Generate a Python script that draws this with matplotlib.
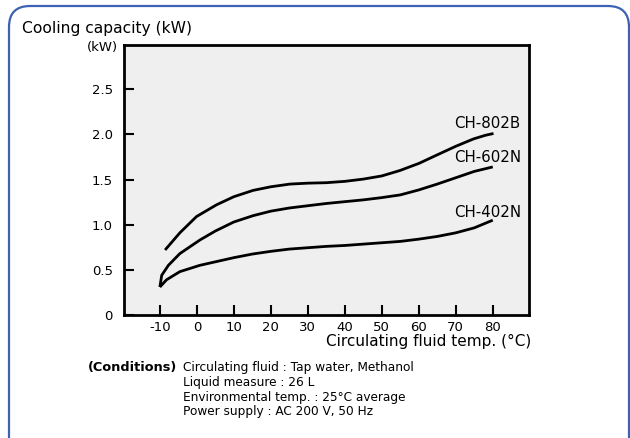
import matplotlib
matplotlib.use("Agg")
import matplotlib.pyplot as plt
from matplotlib.patches import FancyBboxPatch
from matplotlib.transforms import IdentityTransform

plt.rcParams['font.family'] = ['DejaVu Sans']

# Curves (temp in deg C, capacity in kW)
ch802b_t = [-8.6, -4.6, -0.1, 5.3, 10.0, 15.2, 20.0, 25.2, 30.0, 35.0, 40.0, 45.0, 50.0,
            54.9, 60.1, 64.8, 70.1, 74.8, 78.0, 80.2]
ch802b_kw = [0.72, 0.91, 1.09, 1.22, 1.31, 1.38, 1.42, 1.45, 1.46, 1.465, 1.48, 1.505, 1.54,
             1.60, 1.68, 1.77, 1.87, 1.95, 1.99, 2.01]

ch602n_t = [-10.0, -9.5, -7.7, -4.6, 0.8, 5.0, 10.0, 15.2, 20.0, 25.0, 30.0, 35.0, 40.0,
            45.0, 50.0, 55.0, 60.0, 65.0, 70.0, 75.0, 80.0]
ch602n_kw = [0.31, 0.44, 0.55, 0.68, 0.83, 0.93, 1.03, 1.10, 1.15, 1.185, 1.21, 1.235, 1.255,
             1.275, 1.30, 1.33, 1.385, 1.45, 1.52, 1.59, 1.64]

ch402n_t = [-10.0, -8.2, -4.6, 0.8, 6.2, 10.0, 15.0, 20.0, 25.0, 30.0, 35.0, 40.0, 45.0,
            50.0, 55.0, 60.0, 65.0, 70.0, 75.0, 80.0]
ch402n_kw = [0.31, 0.39, 0.48, 0.55, 0.60, 0.635, 0.675, 0.705, 0.73, 0.745, 0.76, 0.77, 0.785,
             0.80, 0.815, 0.84, 0.87, 0.91, 0.965, 1.05]

x_ticks = [-10, 0, 10, 20, 30, 40, 50, 60, 70, 80]
y_ticks = [0, 0.5, 1.0, 1.5, 2.0, 2.5]
y_labels = ["0", "0.5", "1.0", "1.5", "2.0", "2.5"]

conditions = ["Circulating fluid : Tap water, Methanol",
              "Liquid measure : 26 L",
              "Environmental temp. : 25°C average",
              "Power supply : AC 200 V, 50 Hz"]

W, H = 630, 438
fig = plt.figure(figsize=(W / 100, H / 100), dpi=100)
fig.patch.set_facecolor("white")

# rounded blue frame around everything (pixel coords)
frame = FancyBboxPatch((9, -20), 620, 432 + 20, boxstyle="round,pad=0,rounding_size=21",
                       transform=IdentityTransform(), facecolor="none",
                       edgecolor="#3d62b3", linewidth=1.6, clip_on=False)
fig.add_artist(frame)

ax = fig.add_axes([124 / W, 1 - 315 / H, (529 - 124) / W, (315 - 45) / H])
ax.set_facecolor("#efefef")

for t, kw in [(ch802b_t, ch802b_kw), (ch602n_t, ch602n_kw), (ch402n_t, ch402n_kw)]:
    ax.plot(t, kw, color="black", linewidth=2, solid_capstyle="butt", solid_joinstyle="round")

ax.text(87.6, 2.12, "CH-802B", ha="right", va="center", fontsize=10.8)
ax.text(87.6, 1.74, "CH-602N", ha="right", va="center", fontsize=10.8)
ax.text(87.6, 1.14, "CH-402N", ha="right", va="center", fontsize=10.8)

ax.set_xlim(-19.7, 89.8)
ax.set_ylim(0, 2.99)
ax.set_xticks(x_ticks)
ax.set_xticklabels([str(v) for v in x_ticks])
ax.set_yticks(y_ticks)
ax.set_yticklabels(y_labels)
ax.tick_params(direction="in", length=7, width=1.5, labelsize=9.5)
ax.tick_params(axis="y", pad=8)
ax.tick_params(axis="x", pad=4)
for s in ax.spines.values():
    s.set_linewidth(2)

fig.text(22 / W, 1 - 29 / H, "Cooling capacity (kW)", fontsize=11.2, va="center", ha="left")
fig.text(118 / W, 1 - 47 / H, "(kW)", fontsize=9.5, va="center", ha="right")
fig.text(531 / W, 1 - 341 / H, "Circulating fluid temp. (°C)", fontsize=11,
         va="center", ha="right")

fig.text(177 / W, 1 - 368 / H, "(Conditions)", fontsize=9.3, fontweight="bold",
         va="center", ha="right")
for i, line in enumerate(conditions):
    fig.text(183 / W, 1 - (368 + 14.5 * i) / H, line, fontsize=8.7, va="center", ha="left")

fig.savefig("out.png", dpi=100)
